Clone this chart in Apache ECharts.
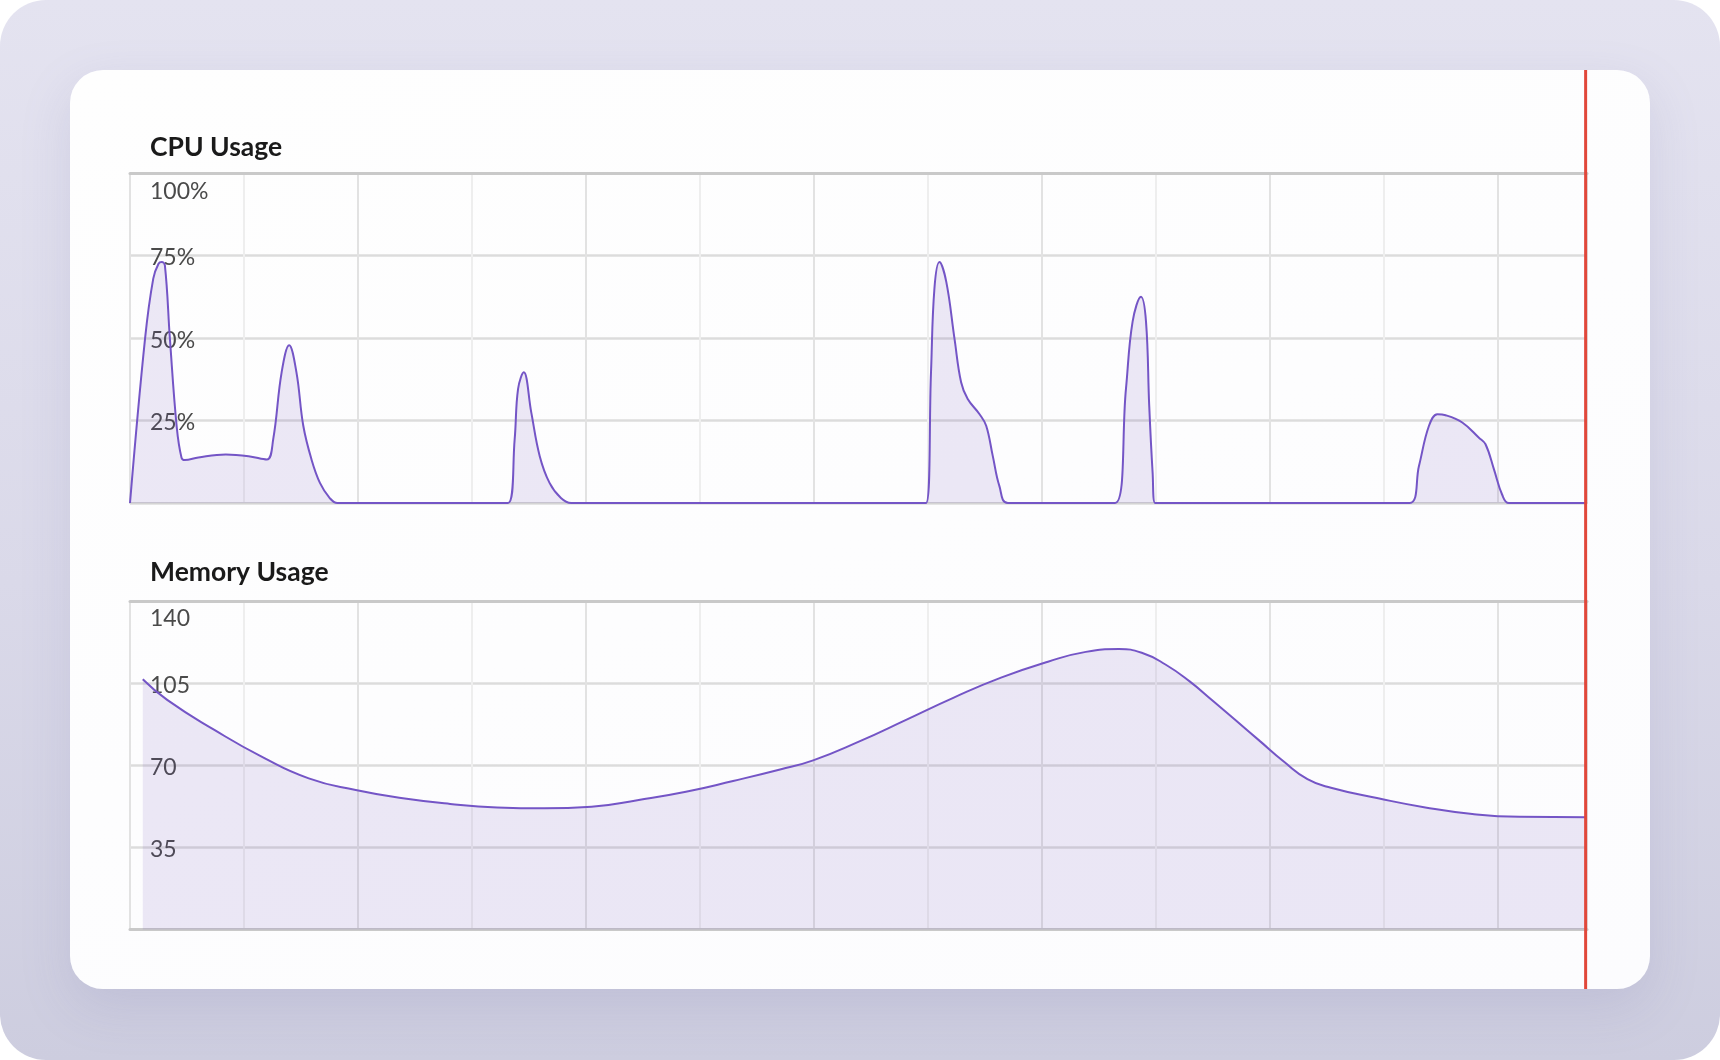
<!DOCTYPE html>
<html>
<head>
<meta charset="utf-8">
<script src="https://cdn.jsdelivr.net/npm/echarts@6/dist/echarts.min.js"></script>
<style>
  html, body { margin: 0; padding: 0; background: #ffffff; width: 1720px; height: 1060px; overflow: hidden; }
  #frame { position: absolute; left: 0; top: 0; width: 1720px; height: 1060px; border-radius: 46px;
           background: linear-gradient(180deg, #e4e3f0 0%, #dad9e9 55%, #cdcddf 100%); }
  #card { position: absolute; left: 70px; top: 70px; width: 1580px; height: 919px; border-radius: 33px;
          background: linear-gradient(160deg, #fefefe 0%, #fcfcfe 100%);
          box-shadow: 0 18px 50px rgba(120,120,170,0.18); }
  #chart { position: absolute; left: 0; top: 0; width: 1720px; height: 1060px; }
</style>
</head>
<body>
<div id="frame"></div>
<div id="card"></div>
<div id="chart"></div>
<script>
// ---- data ----
const cpuTime  = [0, 0.66, 1.02, 1.25, 1.39, 1.53, 1.75, 2.05, 2.26, 2.4, 3.0, 4.2, 5.2, 6.0, 6.28, 6.65, 6.98, 7.3, 7.6, 7.96, 8.33, 8.76, 9.1,
                  16.58, 16.87, 17.02, 17.27, 17.6, 17.97, 18.4, 18.9, 19.35,
                  34.91, 35.13, 35.28, 35.5, 35.8, 36.16, 36.45, 36.74, 37.26, 37.55, 37.84, 38.13, 38.5,
                  43.2, 43.68, 43.97, 44.34, 44.56, 44.7, 44.85, 44.96,
                  56.12, 56.53, 56.97, 57.34, 57.7, 58.43, 59.16, 59.45, 59.82, 60.18, 60.47, 63.9];
const cpuValue = [0, 49.8, 68, 72.5, 73, 72, 49.8, 23, 13.7, 13, 13.8, 14.7, 14.2, 13.2, 19.3, 39.6, 47.8, 39.6, 23.4, 13.2, 6.1, 1.5, 0,
                  0, 19.3, 34.6, 39.6, 27.4, 14.2, 6.1, 1.5, 0,
                  0, 39.6, 65, 73, 67, 49.8, 36.6, 31.5, 26.9, 23.4, 14.2, 5.1, 0,
                  0, 34.6, 54.9, 62.5, 54.9, 29.5, 9.1, 0,
                  0, 11.2, 23.4, 26.9, 26.6, 24.4, 19.8, 17.8, 10.2, 2.5, 0, 0];

const memTime  = [0.56, 1.63, 3.7, 5.77, 7.84, 9.9, 11.97, 14.04, 16.1, 18.17, 20.24, 22.31, 24.38, 26.45, 28.51, 29.96,
                  31.99, 34.06, 36.13, 38.2, 40.26, 41.92, 43.37, 44.4, 45.43, 46.46, 47.5, 48.53, 49.57, 50.6, 51.64,
                  52.67, 54.74, 56.81, 58.87, 60.94, 63.9];
const memValue = [106.8, 98, 85.2, 73.8, 64.5, 59.5, 56, 53.6, 52.1, 51.7, 52.4, 55.3, 58.8, 63.4, 68.3, 72.2,
                  80.3, 89.6, 99.0, 107.5, 114.3, 118.5, 119.7, 118, 113, 106, 97.5, 89, 80.3, 71.7, 64.2,
                  60.5, 56, 52.1, 49.3, 48.1, 47.9];

const cpuTicks = [0, 25, 50, 75, 100];
const memTicks = [0, 35, 70, 105, 140];
const titles = ['CPU Usage', 'Memory Usage'];
const timeMax = 63.9;
const nowTime = 63.84;

// ---- chart ----
const chart = echarts.init(document.getElementById('chart'), null, { renderer: 'canvas' });
const lineColor = '#7455c6';
const areaColor = 'rgba(112,82,180,0.18)';
const font = 'Lato, "Noto Sans", sans-serif';

function xAxisBase(grid, pos, showSplit, axisColor, axisWidth) {
  return {
    type: 'value', gridIndex: grid, position: pos, min: 0, max: timeMax, interval: 10,
    axisLabel: { show: false }, axisTick: { show: false },
    axisLine: { show: true, onZero: false, lineStyle: { color: axisColor, width: axisWidth } },
    splitLine: { show: showSplit, lineStyle: { color: '#e2e2e2', width: 2 } },
    minorTick: { show: false, splitNumber: 2 },
    minorSplitLine: { show: showSplit, lineStyle: { color: '#eeeeee', width: 2 } }
  };
}
function yAxisBase(grid, ticks, suffix, topPad) {
  const maxV = ticks[ticks.length - 1];
  const labelStyle = { fontSize: 23, fontFamily: font, color: '#4a4a4a' };
  return {
    type: 'value', gridIndex: grid, min: ticks[0], max: maxV, interval: ticks[1] - ticks[0],
    axisLine: { show: false }, axisTick: { show: false },
    splitLine: { show: true, lineStyle: { color: '#dcdcdc', width: 2.5 } },
    axisLabel: {
      inside: true, margin: 20, color: '#4a4a4a', fontSize: 23, fontFamily: font,
      showMinLabel: false,
      formatter: function (v) {
        if (v === ticks[0]) return '';
        if (v === maxV) return '{top|' + v + suffix + '}';
        return '{n|' + v + suffix + '}';
      },
      rich: {
        top: Object.assign({ padding: [topPad, 0, 0, 0] }, labelStyle),
        n: Object.assign({ padding: [5, 0, 0, 0] }, labelStyle)
      }
    }
  };
}

const option = {
  animation: false,
  backgroundColor: 'transparent',
  title: [
    { text: titles[0], left: 150, top: 132, padding: 0,
      textStyle: { fontFamily: font, fontWeight: 'bold', fontSize: 26.5, color: '#1a1a1a', lineHeight: 30 } },
    { text: titles[1], left: 150, top: 557, padding: 0,
      textStyle: { fontFamily: font, fontWeight: 'bold', fontSize: 26.5, color: '#1a1a1a', lineHeight: 30 } }
  ],
  grid: [
    { left: 130, right: 133, top: 173, height: 330, containLabel: false, outerBoundsMode: 'none' },
    { left: 130, right: 133, top: 601.5, height: 328, containLabel: false, outerBoundsMode: 'none' }
  ],
  xAxis: [
    xAxisBase(0, 'bottom', true, '#d4d4d4', 2),
    xAxisBase(1, 'bottom', true, '#c9c9c9', 3),
    xAxisBase(0, 'top', false, '#c9c9c9', 3),
    xAxisBase(1, 'top', false, '#c9c9c9', 3)
  ],
  yAxis: [
    yAxisBase(0, cpuTicks, '%', 37),
    yAxisBase(1, memTicks, '', 35)
  ],
  series: [
    {
      name: 'CPU', type: 'line', xAxisIndex: 0, yAxisIndex: 0,
      data: cpuTime.map((t, i) => [t, cpuValue[i]]),
      smooth: 0.4, symbol: 'none',
      lineStyle: { color: lineColor, width: 2 },
      areaStyle: { color: areaColor }
    },
    {
      name: 'Memory', type: 'line', xAxisIndex: 1, yAxisIndex: 1,
      data: memTime.map((t, i) => [t, memValue[i]]),
      smooth: 0.5, symbol: 'none',
      lineStyle: { color: lineColor, width: 2 },
      areaStyle: { color: areaColor }
    }
  ]
};
chart.setOption(option);

const nowX = chart.convertToPixel({ xAxisIndex: 0 }, nowTime);
chart.setOption({
  graphic: [{
    type: 'line', z: 100,
    shape: { x1: nowX, y1: 70, x2: nowX, y2: 989 },
    style: { stroke: '#e1473a', lineWidth: 3 }
  }]
});
</script>
</body>
</html>
